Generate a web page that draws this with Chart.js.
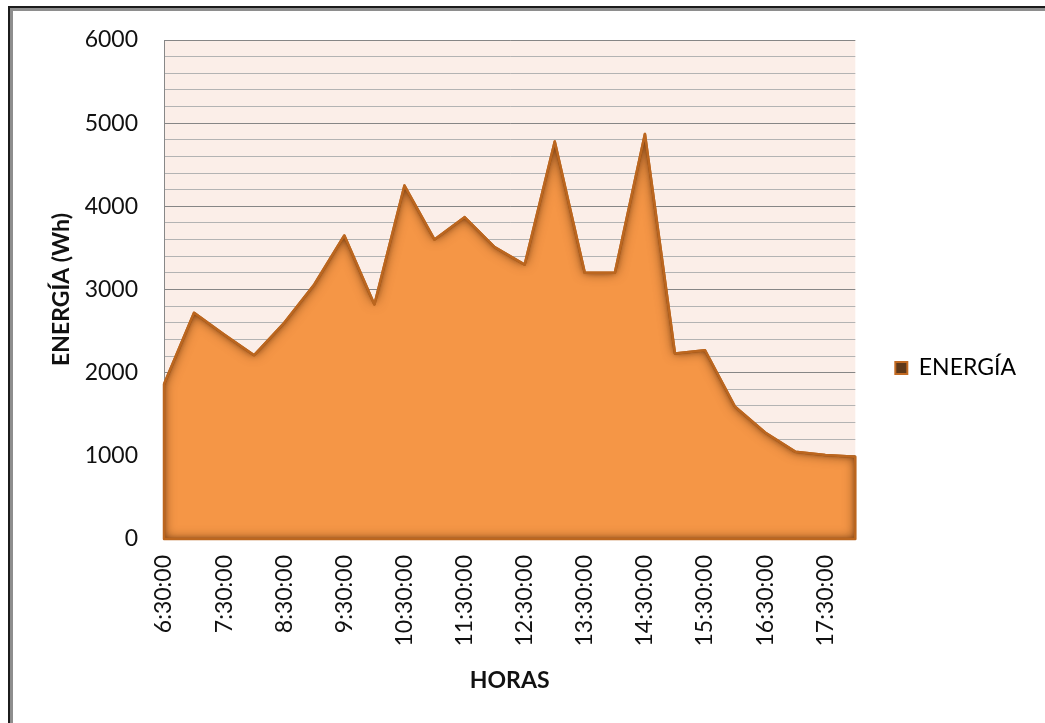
<!DOCTYPE html>
<html lang="es">
<head>
<meta charset="utf-8">
<title>ENERGÍA</title>
<script src="https://cdn.jsdelivr.net/npm/chart.js@4.4.1/dist/chart.umd.min.js"></script>
<style>
  html, body { margin: 0; padding: 0; background: #ffffff; }
  #wrap { position: relative; width: 1045px; height: 723px; overflow: hidden; }
  canvas { display: block; }
</style>
</head>
<body>
<div id="wrap"><canvas id="grafico" width="1045" height="723"></canvas></div>
<script>
// Hourly readings, every 30 minutes
const horas = [
  '6:30:00', '7:00:00', '7:30:00', '8:00:00', '8:30:00', '9:00:00',
  '9:30:00', '10:00:00', '10:30:00', '11:00:00', '11:30:00', '12:00:00',
  '12:30:00', '13:00:00', '13:30:00', '14:00:00', '14:30:00', '15:00:00',
  '15:30:00', '16:00:00', '16:30:00', '17:00:00', '17:30:00', '18:00:00'
];
// Energy (Wh) at each time
const energia = [
  1860, 2720, 2460, 2210, 2600, 3060,
  3650, 2820, 4250, 3600, 3870, 3510,
  3300, 4780, 3200, 3200, 4870, 2230,
  2270, 1590, 1280, 1050, 1010, 990
];
const serieNombre = 'ENERGÍA';
const tituloY = 'ENERGÍA (Wh)';
const tituloX = 'HORAS';
const ejeY = { min: 0, max: 6000, paso: 200, etiquetaCada: 1000 };

const FONT = 'Lato, "Open Sans", sans-serif';

// Frame around the whole figure and plot background
const marco = {
  id: 'marco',
  beforeDraw(chart) {
    const ctx = chart.ctx;
    ctx.save();
    ctx.fillStyle = '#ffffff';
    ctx.fillRect(0, 0, chart.width, chart.height);
    ctx.fillStyle = '#1c1c1c';
    ctx.fillRect(8, 6, chart.width, 2);
    ctx.fillRect(8, 6, 2, chart.height);
    ctx.fillStyle = '#8e8e8e';
    ctx.fillRect(10, 8, chart.width, 3);
    ctx.fillRect(10, 8, 3, chart.height);
    const a = chart.chartArea;
    ctx.fillStyle = '#fbeee8';
    ctx.fillRect(a.left, a.top, a.right - a.left, a.bottom - a.top);
    ctx.restore();
  }
};

// Bevel-like inner shadow along the edges of the filled area
const sombraArea = {
  id: 'sombraArea',
  afterDatasetsDraw(chart) {
    const meta = chart.getDatasetMeta(0);
    const pts = meta.data;
    if (!pts.length) return;
    const base = chart.scales.y.getPixelForValue(0);
    const ctx = chart.ctx;
    const contorno = () => {
      ctx.moveTo(pts[0].x, base);
      for (const p of pts) ctx.lineTo(p.x, p.y);
      ctx.lineTo(pts[pts.length - 1].x, base);
      ctx.closePath();
    };
    ctx.save();
    ctx.beginPath();
    contorno();
    ctx.clip();
    ctx.shadowOffsetX = 0;
    ctx.shadowOffsetY = 0;
    ctx.fillStyle = 'rgba(70, 32, 4, 1)';
    [[12, 'rgba(80, 36, 4, 0.75)'], [4, 'rgba(80, 36, 4, 0.45)']].forEach(([blur, col]) => {
      ctx.shadowColor = col;
      ctx.shadowBlur = blur;
      ctx.beginPath();
      ctx.rect(-2000, -2000, 6000, 6000);
      contorno();
      ctx.fill('evenodd');
    });
    ctx.restore();

    ctx.save();
    ctx.beginPath();
    contorno();
    ctx.lineWidth = 2.5;
    ctx.lineJoin = 'round';
    ctx.strokeStyle = '#bb661f';
    ctx.stroke();
    ctx.restore();
  }
};

new Chart(document.getElementById('grafico'), {
  type: 'line',
  data: {
    labels: horas,
    datasets: [{
      label: serieNombre,
      data: energia,
      fill: 'origin',
      backgroundColor: '#f59646',
      borderColor: '#bb661f',
      borderWidth: 2.5,
      borderJoinStyle: 'round',
      pointRadius: 0,
      pointHoverRadius: 0,
      tension: 0
    }]
  },
  options: {
    responsive: false,
    animation: false,
    events: [],
    layout: { padding: { top: 13, right: 19, bottom: 0, left: 0 } },
    plugins: {
      tooltip: { enabled: false },
      title: {
        display: true,
        text: '',
        font: { size: 1 },
        padding: { top: 0, bottom: 25.8 }
      },
      legend: {
        display: true,
        position: 'right',
        align: 'center',
        labels: {
          color: '#111111',
          font: { family: FONT, size: 23 },
          boxWidth: 12,
          boxHeight: 12,
          padding: 40,
          generateLabels(chart) {
            return chart.data.datasets.map((ds, i) => ({
              text: ds.label,
              fillStyle: '#5e3819',
              strokeStyle: '#c26a22',
              lineWidth: 2,
              datasetIndex: i,
              hidden: false
            }));
          }
        }
      }
    },
    scales: {
      x: {
        type: 'category',
        offset: false,
        grid: { display: false, drawTicks: false },
        border: { display: true, color: '#888888', width: 1 },
        ticks: {
          autoSkip: false,
          maxRotation: 90,
          minRotation: 90,
          padding: 16,
          color: '#111111',
          font: { family: FONT, size: 23 },
          callback(val, idx) { return idx % 2 === 0 ? horas[idx] : ''; }
        },
        title: {
          display: true,
          text: tituloX,
          color: '#111111',
          font: { family: FONT, size: 23, weight: 'bold' },
          padding: { top: 0, bottom: 29 }
        },
        afterFit(scale) { scale.height = 184; }
      },
      y: {
        min: ejeY.min,
        max: ejeY.max,
        grid: {
          drawTicks: false,
          color(c) { return c.tick.value % ejeY.etiquetaCada === 0 ? '#868686' : '#b3b3b3'; },
          lineWidth: 1
        },
        border: { display: true, color: '#888888', width: 1 },
        ticks: {
          stepSize: ejeY.paso,
          autoSkip: false,
          padding: 26,
          color: '#111111',
          font: { family: FONT, size: 23 },
          callback(v) { return v % ejeY.etiquetaCada === 0 ? String(v) : ''; }
        },
        title: {
          display: true,
          text: tituloY,
          color: '#111111',
          font: { family: FONT, size: 23, weight: 'bold' },
          padding: { top: 48, bottom: 0 }
        },
        afterFit(scale) { scale.width = 164; }
      }
    }
  },
  plugins: [marco, sombraArea]
});
</script>
</body>
</html>
